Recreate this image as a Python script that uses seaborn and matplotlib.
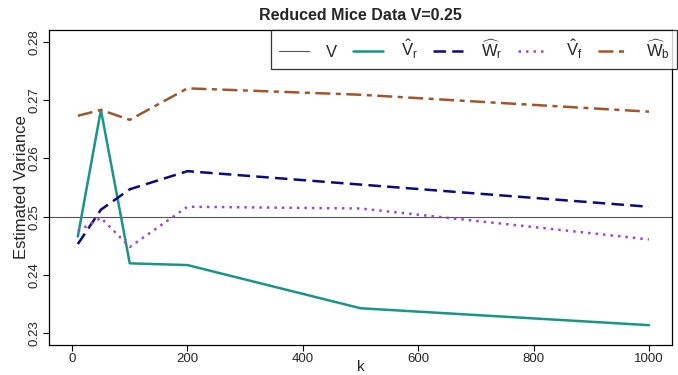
import matplotlib
matplotlib.use("Agg")
import matplotlib.pyplot as plt
import seaborn as sns
import pandas as pd

k = [10, 50, 100, 200, 500, 1000]
V_true = 0.25
Vr_hat = [0.2466, 0.2683, 0.2420, 0.2417, 0.2343, 0.2314]
Wr_hat = [0.2453, 0.2512, 0.2547, 0.2578, 0.2555, 0.2517]
Vf_hat = [0.2475, 0.2498, 0.2448, 0.2517, 0.2514, 0.2461]
Wb_hat = [0.2673, 0.2683, 0.2666, 0.2720, 0.2709, 0.2680]

labels = ["V", r"$\hat{\mathrm{V}}_\mathrm{r}$", r"$\widehat{\mathrm{W}}_\mathrm{r}$",
          r"$\hat{\mathrm{V}}_\mathrm{f}$", r"$\widehat{\mathrm{W}}_\mathrm{b}$"]

sns.set_style("ticks")
plt.rcParams['font.family'] = ['Liberation Sans', 'DejaVu Sans']
plt.rcParams['mathtext.fontset'] = 'custom'
plt.rcParams['mathtext.rm'] = 'Liberation Sans'
plt.rcParams['mathtext.it'] = 'Liberation Sans'

fig = plt.figure(figsize=(6.78, 3.75), dpi=100)
ax = fig.add_axes([49/678, 1-345/375, (672-49)/678, (345-30)/375])

teal = "#17958b"
navy = "#0a0a80"
purple = "#9b45d8"
brown = "#a0552a"

hv = ax.axhline(V_true, color="#555555", lw=0.8)
df = pd.DataFrame({"k": k, "Vr": Vr_hat, "Wr": Wr_hat, "Vf": Vf_hat, "Wb": Wb_hat})
sns.lineplot(data=df, x="k", y="Vr", ax=ax, color=teal, lw=1.8)
sns.lineplot(data=df, x="k", y="Wr", ax=ax, color=navy, lw=1.8)
sns.lineplot(data=df, x="k", y="Vf", ax=ax, color=purple, lw=1.8)
sns.lineplot(data=df, x="k", y="Wb", ax=ax, color=brown, lw=1.8)
lines = ax.get_lines()
lines[2].set_dashes([5, 2.5])
lines[3].set_dashes([1, 2])
lines[4].set_dashes([6, 2.2, 2, 2.2])

ax.set_xlim(-40, 1040)
ax.set_ylim(0.228, 0.282)
ax.set_xticks([0, 200, 400, 600, 800, 1000])
ax.set_yticks([0.23, 0.24, 0.25, 0.26, 0.27, 0.28])
ax.set_yticklabels(["0.23", "0.24", "0.25", "0.26", "0.27", "0.28"], rotation=90, va="center")
ax.tick_params(labelsize=9.5, length=4, width=0.8, color="black", pad=2)
for s in ax.spines.values():
    s.set_visible(True)
    s.set_color("black")
    s.set_linewidth(0.9)
ax.set_xlabel("k", fontsize=11)
ax.xaxis.set_label_coords(0.5, -0.048, transform=ax.transAxes)
ax.xaxis.label.set_va("top")
ax.set_ylabel("Estimated Variance", fontsize=12, labelpad=0)
ax.set_title("Reduced Mice Data V=0.25", fontsize=11.5, fontweight="bold", pad=7)

leg = fig.legend(lines[:5], labels, loc="upper right", bbox_to_anchor=(677/678, 1-30/375),
                 ncol=5, fontsize=12, frameon=True, fancybox=False, handlelength=1.8,
                 handletextpad=1.05, columnspacing=0.95, borderpad=0.45, borderaxespad=0)
leg.get_frame().set_edgecolor("black")
leg.get_frame().set_linewidth(0.9)

fig.savefig("out.png", dpi=100)
